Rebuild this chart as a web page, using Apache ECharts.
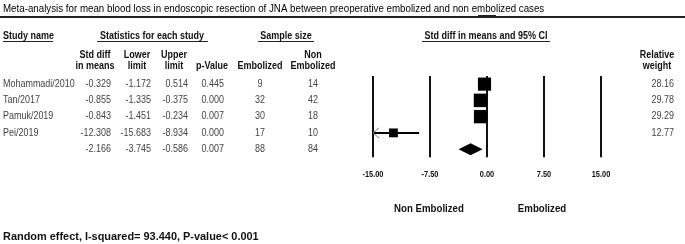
<!DOCTYPE html>
<html>
<head>
<meta charset="utf-8">
<script src="https://cdn.jsdelivr.net/npm/echarts@6/dist/echarts.min.js"></script>
<style>
  html, body { margin: 0; padding: 0; background: #fff; }
  #forest_chart { width: 685px; height: 244px; }
</style>
</head>
<body>
<div id="forest_chart"></div>
<script>
// data
const studies = ['Mohammadi/2010', 'Tan/2017', 'Pamuk/2019', 'Pei/2019'];
const stdDiff = [-0.329, -0.855, -0.843, -12.308];
const lowerLimit = [-1.172, -1.335, -1.451, -15.683];
const upperLimit = [0.514, -0.375, -0.234, -8.934];
const pValue = [0.445, 0.000, 0.007, 0.000];
const nEmbolized = [9, 32, 30, 17];
const nNonEmbolized = [14, 42, 18, 10];
const relWeight = [28.16, 29.78, 29.29, 12.77];

// pooled (random effect) row
const pooled = { diff: -2.166, lower: -3.745, upper: -0.586, p: 0.007, nEmb: 88, nNon: 84 };

const xTicks = [-15, -7.5, 0, 7.5, 15];

const FONT = '"Liberation Sans", Arial, sans-serif';
const xMin = xTicks[0];
const xMax = xTicks[xTicks.length - 1];

const rowsData = studies.map((s, i) => [stdDiff[i], i, lowerLimit[i], upperLimit[i], relWeight[i]]);
const summaryRow = studies.length;

// table columns (x position + how to format)
const columns = [
  { x: 3, align: 'left', get: i => i < studies.length ? studies[i] : '' },
  { x: 111, align: 'right', get: i => (i < studies.length ? stdDiff[i] : pooled.diff).toFixed(3) },
  { x: 151, align: 'right', get: i => (i < studies.length ? lowerLimit[i] : pooled.lower).toFixed(3) },
  { x: 188, align: 'right', get: i => (i < studies.length ? upperLimit[i] : pooled.upper).toFixed(3) },
  { x: 224, align: 'right', get: i => (i < studies.length ? pValue[i] : pooled.p).toFixed(3) },
  { x: 260, align: 'center', get: i => String(i < studies.length ? nEmbolized[i] : pooled.nEmb) },
  { x: 313, align: 'center', get: i => String(i < studies.length ? nNonEmbolized[i] : pooled.nNon) },
  { x: 674, align: 'right', get: i => i < studies.length ? relWeight[i].toFixed(2) : '' }
];

const tableData = [];
for (let i = 0; i <= studies.length; i++) tableData.push([0, i]);

// the original uses a narrow-looking font, so squeeze text a bit
function headerText(text, x, y, align, size, squeeze) {
  return {
    type: 'text', x: x, y: y, scaleX: squeeze || 0.9,
    style: { text: text, font: 'bold ' + (size || 10) + 'px ' + FONT, fill: '#111', align: align || 'center', verticalAlign: 'middle' }
  };
}
function rule(x1, x2, y, w) {
  return { type: 'line', shape: { x1: x1, y1: y, x2: x2, y2: y }, style: { stroke: '#222', lineWidth: w || 1 } };
}

const chart = echarts.init(document.getElementById('forest_chart'), null, { renderer: 'canvas' });

const option = {
  animation: false,
  backgroundColor: '#fff',
  grid: { left: 373, width: 228, top: 76, height: 81.25 },
  xAxis: {
    type: 'value', min: xMin, max: xMax, interval: 7.5,
    axisLine: { show: false }, axisTick: { show: false }, axisLabel: { show: false },
    splitLine: { show: true, lineStyle: { color: '#111', width: 2 } }
  },
  yAxis: {
    type: 'value', min: -0.5, max: summaryRow + 0.5, inverse: true, show: false
  },
  graphic: [
    { type: 'text', x: 3, y: 9, scaleX: 0.92, style: { text: 'Meta-analysis for mean blood loss in endoscopic resection of JNA between preoperative embolized and non embolized cases', font: '10.6px ' + FONT, fill: '#000', verticalAlign: 'middle' } },
    rule(0, 685, 17, 2),
    { type: 'rect', shape: { x: 478, y: 15, width: 18, height: 2.5 }, style: { fill: '#222' } },

    headerText('Study name', 3, 36, 'left'),
    rule(3, 53, 41.5),
    headerText('Statistics for each study', 152, 36),
    rule(97, 208, 41.5),
    headerText('Sample size', 286, 36),
    rule(258, 314, 41.5),
    headerText('Std diff in means and 95% CI', 486, 36),
    rule(422, 550, 41.5),

    headerText('Std diff', 95, 55), headerText('in means', 95, 66),
    headerText('Lower', 137, 55), headerText('limit', 137, 66),
    headerText('Upper', 174, 55), headerText('limit', 174, 66),
    headerText('p-Value', 212, 66),
    headerText('Embolized', 260, 66),
    headerText('Non', 313, 55), headerText('Embolized', 313, 66),
    headerText('Relative', 657, 55), headerText('weight', 657, 66),

    headerText('Non Embolized', 429, 209, 'center', 10.5, 0.92),
    headerText('Embolized', 542, 209, 'center', 10.5, 0.92),

    headerText('Random effect, I-squared= 93.440, P-value< 0.001', 3, 237, 'left', 11.5, 0.95)
  ],
  series: [
    {
      name: 'studies',
      type: 'custom',
      coordinateSystem: 'cartesian2d',
      clip: false,
      encode: { x: 0, y: 1 },
      data: rowsData,
      renderItem: function (params, api) {
        const c = api.coord([api.value(0), api.value(1)]);
        const lo = api.value(2), hi = api.value(3);
        const pLo = api.coord([Math.max(lo, xMin), api.value(1)]);
        const pHi = api.coord([Math.min(hi, xMax), api.value(1)]);
        const side = 13.5 * Math.sqrt(api.value(4) / 29.78);
        const children = [
          { type: 'line', shape: { x1: pLo[0], y1: c[1], x2: pHi[0], y2: c[1] }, style: { stroke: '#000', lineWidth: 2 } },
          { type: 'rect', shape: { x: c[0] - side / 2, y: c[1] - side / 2, width: side, height: side }, style: { fill: '#000' } }
        ];
        if (lo < xMin) {
          children.push({ type: 'polyline', shape: { points: [[pLo[0] + 6, c[1] - 5], [pLo[0], c[1]], [pLo[0] + 6, c[1] + 5]] }, style: { stroke: '#777', lineWidth: 1, fill: null } });
        }
        return { type: 'group', children: children };
      },
      z: 3
    },
    {
      name: 'pooled',
      type: 'custom',
      coordinateSystem: 'cartesian2d',
      clip: false,
      data: [[pooled.diff, summaryRow, pooled.lower, pooled.upper]],
      renderItem: function (params, api) {
        const c = api.coord([api.value(0), api.value(1)]);
        const l = api.coord([api.value(2), api.value(1)]);
        const r = api.coord([api.value(3), api.value(1)]);
        return {
          type: 'polygon',
          shape: { points: [[l[0], c[1]], [c[0], c[1] - 6], [r[0], c[1]], [c[0], c[1] + 6]] },
          style: { fill: '#000' }
        };
      },
      z: 3
    },
    {
      // x tick labels, placed through the x scale
      name: 'ticks',
      type: 'custom',
      coordinateSystem: 'cartesian2d',
      clip: false,
      silent: true,
      data: xTicks.map(v => [v, summaryRow + 0.5]),
      renderItem: function (params, api) {
        const p = api.coord([api.value(0), api.value(1)]);
        return {
          type: 'text', x: p[0], y: p[1] + 17, scaleX: 0.82,
          style: { text: api.value(0).toFixed(2), font: 'bold 9px ' + FONT, fill: '#111', align: 'center', verticalAlign: 'middle' }
        };
      }
    },
    {
      name: 'table',
      type: 'custom',
      coordinateSystem: 'cartesian2d',
      clip: false,
      silent: true,
      data: tableData,
      renderItem: function (params, api) {
        const row = api.value(1);
        const y = api.coord([0, row])[1];
        return {
          type: 'group',
          children: columns.map(col => ({
            type: 'text', x: col.x, y: y, scaleX: 0.88,
            style: { text: col.get(row), font: '10.2px ' + FONT, fill: '#444', align: col.align, verticalAlign: 'middle' }
          }))
        };
      }
    }
  ]
};

chart.setOption(option);
</script>
</body>
</html>
